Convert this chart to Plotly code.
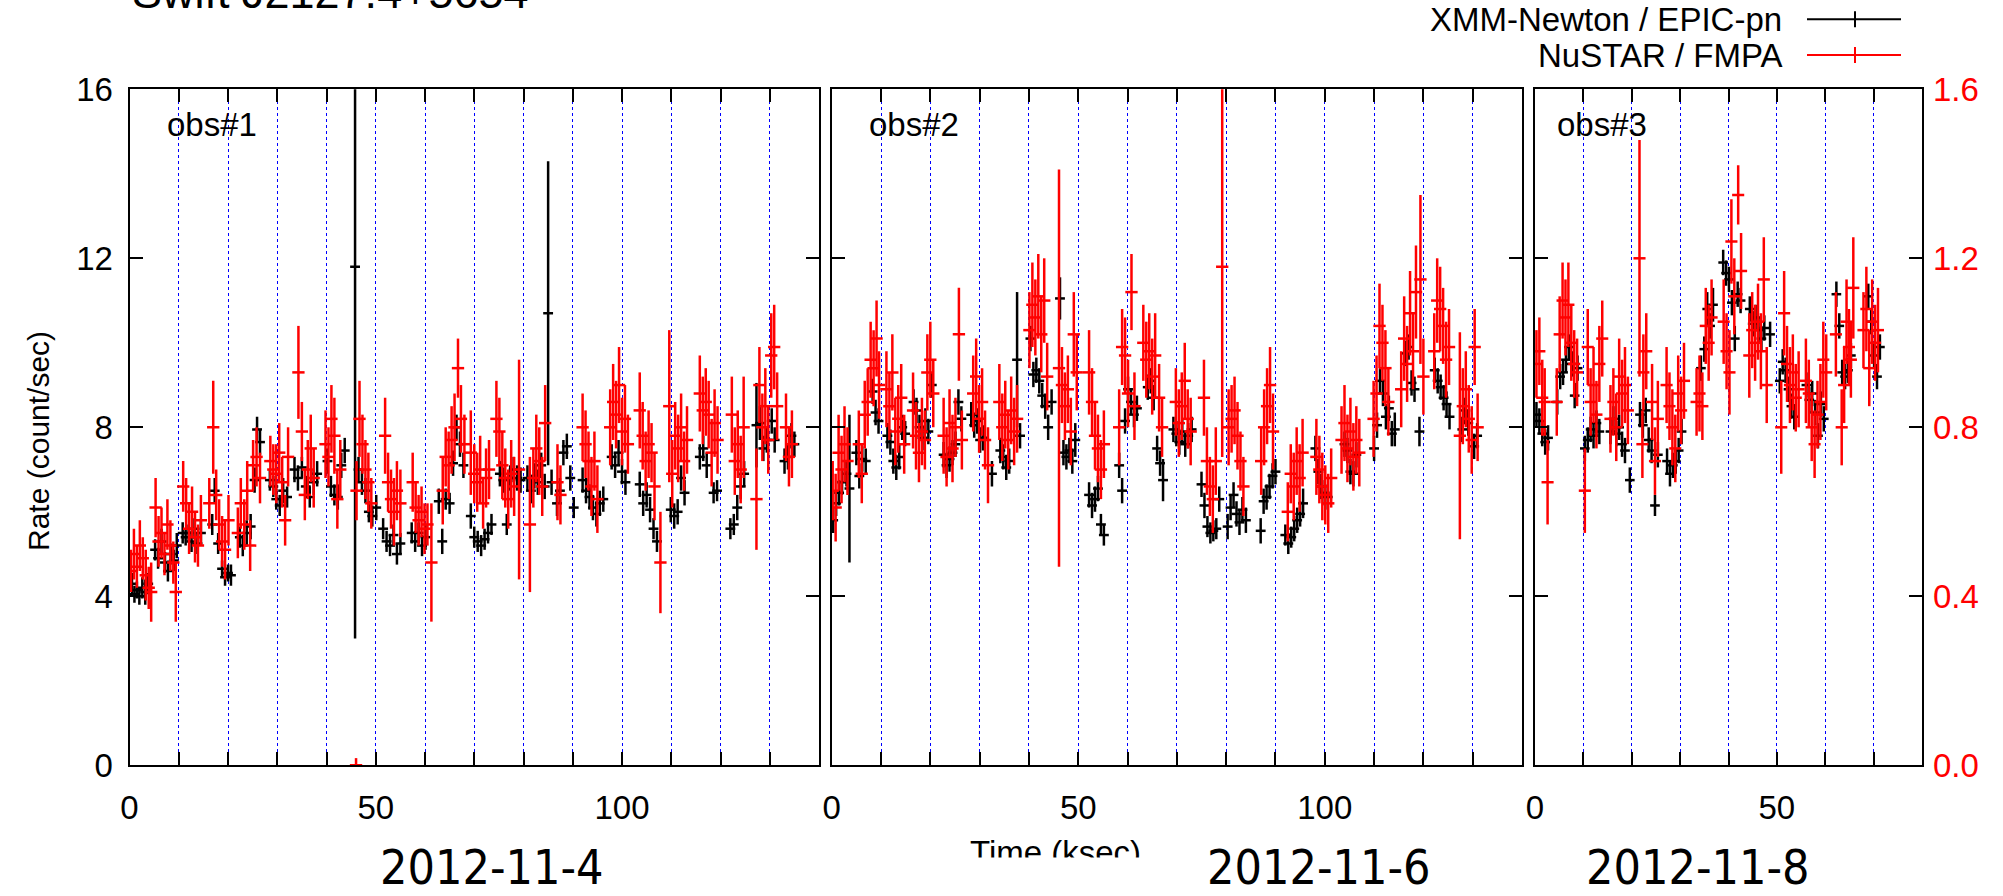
import plotly.graph_objects as go

# ------------------------------------------------------------------ data
# Panel 1 : obs#1 (2012-11-4)  XMM-Newton / EPIC-pn  (count/s)
xmm1_t = [0.5, 1.0, 1.5, 2.0, 2.6, 3.2, 3.8,
          5.2, 5.8, 6.5, 7.2, 7.8, 8.4, 9.0, 9.6,
          10.8, 11.4, 12.0, 12.6, 13.2, 13.8, 14.5,
          16.8, 17.3, 18.0, 18.8, 19.4, 20.0, 20.6,
          22.4, 23.0, 23.8, 24.6, 25.4, 25.9, 26.5,
          28.5, 29.2, 29.8, 30.5, 31.2, 32.0,
          33.5, 34.2, 35.0, 35.8, 36.6, 37.4, 38.1,
          40.2, 40.9, 41.6, 42.3, 43.0, 43.7,
          45.8,
          46.5, 47.2, 47.9, 48.6, 49.3, 50.1,
          51.5, 52.2, 52.9, 53.6, 54.3, 55.0,
          57.3, 58.0, 58.7, 59.4, 60.1,
          62.8, 63.5, 64.2, 65.0, 65.7, 66.4, 67.1, 67.8,
          69.3, 70.0, 70.7, 71.4, 72.1, 72.8, 73.5,
          75.2, 75.9, 76.6, 77.3, 78.0, 78.7, 79.4,
          80.8, 81.5, 82.2, 82.9, 83.6, 84.3,
          85.0,
          85.7, 86.8, 87.4, 88.1, 88.8, 89.5, 90.2,
          92.0, 92.7, 93.4, 94.1, 94.8, 95.5, 96.2,
          97.9, 98.6, 99.3, 100.0, 100.7,
          103.6, 104.3, 105.0, 105.7, 106.4, 107.1,
          109.9, 110.6, 111.3, 112.0, 112.7,
          115.8, 116.5, 117.2, 118.6, 119.3,
          122.0, 122.7, 123.4, 124.1, 124.8,
          127.3, 128.0, 128.7, 129.4, 130.4, 131.0,
          133.0, 133.7, 134.4, 135.0]
xmm1_rate = [4.3, 4.05, 4.15, 4.0, 4.2, 4.1, 4.3,
             5.1, 4.9, 5.3, 4.8, 4.6, 5.0, 4.85, 5.2,
             5.5, 5.4, 5.5, 5.3, 5.6, 5.25, 5.5,
             5.7, 6.5, 5.25, 4.65, 4.45, 4.55, 4.5,
             5.4, 5.2, 5.5, 5.65, 6.75, 7.95, 7.65,
             6.75, 6.6, 6.3, 6.15, 6.5, 6.35,
             7.0, 6.8, 7.05, 6.6, 6.35, 6.7, 6.9,
             7.2, 6.6, 6.4, 6.35, 7.1, 7.45,
             11.8,
             7.0, 6.7, 6.5, 6.0, 5.9, 6.1,
             5.6, 5.3, 5.2, 5.45, 5.0, 5.25,
             5.5, 5.3, 5.5, 5.2, 5.4,
             6.25, 5.3, 6.3, 6.2, 7.15, 8.0, 7.6, 7.1,
             5.9, 5.4, 5.3, 5.2, 5.35, 5.5, 5.7,
             6.9, 6.75, 5.7, 6.8, 7.0, 6.8, 6.75,
             6.8, 6.5, 6.85, 6.7, 7.1, 6.6,
             10.7,
             6.7, 6.2, 6.5, 7.4, 7.55, 6.8, 6.1,
             6.75, 6.5, 6.35, 6.1, 5.95, 6.2, 6.3,
             7.3, 7.1, 7.4, 6.95, 6.7,
             6.65, 6.2, 6.4, 6.05, 5.6, 5.3,
             6.05, 5.9, 6.0, 6.8, 6.45,
             7.3, 7.5, 7.1, 6.45, 6.5,
             5.6, 5.7, 6.1, 6.6, 6.9,
             8.05, 8.1, 7.5, 7.7, 8.15, 7.7,
             7.2, 7.3, 7.8, 7.6]
xmm1_err = [0.25, 0.2, 0.2, 0.2, 0.25, 0.3, 0.25,
            0.25, 0.25, 0.3, 0.25, 0.25, 0.25, 0.25, 0.3,
            0.25, 0.2, 0.2, 0.25, 0.25, 0.25, 0.3,
            0.25, 0.3, 0.25, 0.2, 0.2, 0.2, 0.25,
            0.25, 0.25, 0.3, 0.3, 0.3, 0.3, 0.3,
            0.25, 0.25, 0.25, 0.25, 0.3, 0.25,
            0.3, 0.3, 0.25, 0.25, 0.25, 0.3, 0.3,
            0.3, 0.25, 0.25, 0.3, 0.3, 0.3,
            8.8,
            0.3, 0.3, 0.3, 0.25, 0.25, 0.3,
            0.25, 0.25, 0.25, 0.25, 0.25, 0.25,
            0.25, 0.25, 0.25, 0.25, 0.3,
            0.3, 0.3, 0.25, 0.25, 0.3, 0.3, 0.3, 0.3,
            0.3, 0.25, 0.25, 0.25, 0.25, 0.25, 0.25,
            0.3, 0.3, 0.25, 0.3, 0.3, 0.3, 0.3,
            0.3, 0.3, 0.3, 0.3, 0.3, 0.3,
            3.6,
            0.3, 0.3, 0.3, 0.3, 0.3, 0.3, 0.25,
            0.3, 0.3, 0.3, 0.3, 0.3, 0.3, 0.3,
            0.3, 0.3, 0.3, 0.3, 0.3,
            0.3, 0.3, 0.3, 0.3, 0.25, 0.25,
            0.3, 0.3, 0.3, 0.3, 0.3,
            0.3, 0.3, 0.3, 0.25, 0.25,
            0.25, 0.25, 0.3, 0.3, 0.3,
            1.0, 0.4, 0.3, 0.3, 0.3, 0.3,
            0.3, 0.3, 0.3, 0.3]

# Panel 1 : NuSTAR / FMPA (count/s, right axis)
nu1_t = [0.3, 0.9, 1.5, 2.1, 2.7, 3.3, 3.9, 4.4,
         5.3, 5.9, 6.5, 7.1, 7.7, 8.3, 8.9, 9.4,
         10.9, 11.5, 12.1, 12.7, 13.3, 13.9, 14.5,
         16.2, 17.0, 17.6, 18.2, 18.8, 19.4, 20.1,
         22.0, 22.6, 23.3, 23.9, 24.5, 25.1, 25.8, 26.5,
         28.6, 29.2, 29.8, 30.4, 31.0, 31.6, 32.2,
         34.3, 35.0, 35.6, 36.2, 36.8, 37.4,
         39.8, 40.4, 41.0, 41.6, 42.2, 42.8,
         46.0,
         46.1, 46.7, 47.3, 47.9, 48.5, 49.1,
         51.9, 52.5, 53.1, 53.7, 54.3, 55.0,
         57.5, 58.1, 58.7, 59.3, 59.9, 60.5, 61.3,
         63.6, 64.2, 64.8, 65.4, 66.0, 66.7, 67.3, 68.0,
         69.3, 70.0, 70.6, 71.2, 71.8, 72.4, 73.0,
         74.5, 75.1, 75.7, 76.3, 76.9, 77.5, 78.1, 79.1,
         81.3, 82.0, 82.6, 83.2, 83.8, 84.4,
         86.9, 87.5,
         92.0, 92.6, 93.2, 93.8, 94.4, 95.0,
         97.6, 98.2, 98.8, 99.4, 100.0, 100.6, 101.2,
         103.6, 104.2, 104.8, 105.4, 106.0, 106.6, 107.8,
         109.6, 110.2, 110.8, 111.4, 112.0, 112.6, 113.2,
         115.8, 116.4, 117.0, 117.6, 118.2, 118.8, 119.4,
         122.3, 122.9, 123.5, 124.1, 124.7,
         127.3, 127.9, 128.5, 129.1, 129.7, 130.3, 130.9, 131.5,
         133.3, 133.9, 134.5]
nu1_rate = [0.46, 0.50, 0.47, 0.52, 0.49, 0.45, 0.42, 0.41,
            0.61, 0.53, 0.55, 0.50, 0.57, 0.52, 0.48, 0.41,
            0.66, 0.62, 0.56, 0.60, 0.54, 0.52, 0.58,
            0.62, 0.80, 0.64, 0.57, 0.53, 0.51, 0.58,
            0.55, 0.62, 0.57, 0.65, 0.52, 0.71, 0.73, 0.68,
            0.72, 0.70, 0.69, 0.74, 0.67, 0.58, 0.73,
            0.93, 0.79, 0.64, 0.70, 0.75, 0.68,
            0.76, 0.73, 0.82, 0.78, 0.63, 0.70,
            0.0,
            0.65, 0.82, 0.76, 0.70, 0.67, 0.62,
            0.78, 0.67, 0.63, 0.60, 0.65, 0.62,
            0.67, 0.61, 0.58, 0.60, 0.56, 0.57, 0.48,
            0.65, 0.73, 0.71, 0.77, 0.80, 0.94, 0.82, 0.76,
            0.74, 0.69, 0.67, 0.70, 0.62, 0.68, 0.70,
            0.82, 0.79, 0.71, 0.68, 0.63, 0.69, 0.66, 0.70,
            0.57, 0.68, 0.75, 0.72, 0.66, 0.81,
            0.67, 0.64,
            0.80, 0.76, 0.72, 0.66, 0.72, 0.63,
            0.80, 0.86, 0.83, 0.90, 0.79, 0.82, 0.76,
            0.84, 0.78, 0.72, 0.76, 0.74, 0.66, 0.48,
            0.85, 0.69, 0.78, 0.75, 0.80, 0.72, 0.77,
            0.88, 0.84, 0.86, 0.83, 0.74, 0.81, 0.77,
            0.83, 0.72, 0.76, 0.70, 0.80,
            0.63, 0.90, 0.80, 0.85, 0.77, 0.97, 0.99, 0.85,
            0.80, 0.73, 0.76]
nu1_err = [0.05, 0.06, 0.05, 0.06, 0.05, 0.06, 0.05, 0.07,
           0.07, 0.06, 0.06, 0.05, 0.06, 0.06, 0.05, 0.07,
           0.06, 0.06, 0.06, 0.06, 0.06, 0.05, 0.06,
           0.06, 0.11, 0.06, 0.06, 0.06, 0.07, 0.06,
           0.06, 0.06, 0.06, 0.07, 0.06, 0.06, 0.07, 0.06,
           0.06, 0.06, 0.07, 0.07, 0.06, 0.06, 0.07,
           0.11, 0.07, 0.06, 0.07, 0.08, 0.07,
           0.08, 0.07, 0.08, 0.09, 0.07, 0.07,
           0.017,
           0.07, 0.09, 0.07, 0.07, 0.07, 0.06,
           0.09, 0.07, 0.07, 0.08, 0.07, 0.08,
           0.07, 0.06, 0.06, 0.06, 0.06, 0.05, 0.14,
           0.08, 0.07, 0.08, 0.08, 0.08, 0.07, 0.08, 0.07,
           0.10, 0.07, 0.07, 0.08, 0.06, 0.07, 0.07,
           0.09, 0.08, 0.08, 0.07, 0.07, 0.08, 0.07, 0.26,
           0.16, 0.07, 0.08, 0.08, 0.07, 0.09,
           0.09, 0.07,
           0.08, 0.08, 0.07, 0.07, 0.07, 0.08,
           0.09, 0.09, 0.08, 0.09, 0.08, 0.08, 0.07,
           0.09, 0.08, 0.07, 0.08, 0.07, 0.08, 0.12,
           0.18, 0.08, 0.08, 0.08, 0.08, 0.07, 0.08,
           0.09, 0.08, 0.08, 0.08, 0.08, 0.08, 0.08,
           0.09, 0.08, 0.08, 0.08, 0.12,
           0.12, 0.09, 0.08, 0.09, 0.08, 0.10, 0.10, 0.08,
           0.08, 0.07, 0.08]

# Panel 2 : obs#2 (2012-11-6)  XMM-Newton / EPIC-pn
xmm2_t = [0.3, 0.9, 1.5, 2.1, 3.0, 3.6,
          5.0, 5.6, 6.2, 6.9,
          8.3, 8.9, 9.5,
          11.3, 11.9, 12.5, 13.1, 13.7, 14.3, 14.9,
          16.6, 17.2, 17.8, 18.4, 19.0, 19.6, 20.3,
          22.7, 23.3, 23.9, 24.5, 25.1, 25.7, 26.3,
          28.3, 28.9, 29.5, 30.1, 30.7, 32.5,
          34.2, 34.8, 35.4, 36.0, 37.6, 38.2,
          40.3, 40.9, 41.5, 42.1, 42.7, 43.3, 43.9, 44.6,
          46.3, 47.0, 47.6, 48.2, 48.8, 49.4,
          52.2, 52.8, 53.4, 54.0, 54.6, 55.2,
          58.3, 58.9, 59.5, 60.1, 60.7, 61.3, 61.9,
          64.1, 64.7, 65.3, 66.0, 66.6, 67.2,
          69.3, 69.9, 70.5, 71.1, 71.7, 72.3, 73.0,
          75.0, 75.6, 76.2, 76.8, 77.4, 78.0, 78.6,
          80.3, 80.9, 81.5, 82.1, 82.7, 83.3, 84.0,
          87.0, 87.6, 88.2, 88.8, 89.4, 90.0,
          92.0, 92.6, 93.2, 93.8, 94.4, 95.0, 95.6,
          98.1, 98.7, 99.3, 100.0, 100.6,
          104.0, 104.6, 105.2, 105.8, 106.4,
          110.0, 110.6, 111.2, 111.8, 112.4, 113.0, 113.6, 114.2,
          116.3, 117.0, 117.6, 118.2, 119.2,
          122.3, 122.9, 123.5, 124.1, 124.7, 125.3,
          127.9, 128.5, 129.1, 130.3, 130.9]
xmm2_rate = [5.8, 6.2, 6.45, 6.7, 6.9, 6.55,
             7.4, 6.85, 7.25, 7.2,
             8.85, 8.35, 8.15,
             7.8, 7.65, 7.2, 7.05, 7.3, 8.0, 7.85,
             8.6, 8.4, 8.0, 7.75, 8.15, 7.9, 9.0,
             7.35, 7.1, 7.25, 7.4, 7.6, 8.6, 8.2,
             8.3, 8.05, 8.15, 7.7, 7.75, 6.9,
             7.45, 7.3, 7.05, 7.2, 9.6, 7.8,
             10.1, 9.25, 9.35, 9.1, 8.75, 8.5, 8.0, 8.6,
             11.05, 7.4, 7.3, 7.45, 7.2, 7.7,
             6.4, 6.15, 6.3, 6.55, 5.7, 5.45,
             7.1, 6.5, 8.15, 8.9, 8.6, 8.3, 8.45,
             8.95, 9.1, 8.7, 7.5, 7.15, 6.75,
             7.95, 7.85, 7.65, 7.9, 7.6, 7.8, 7.95,
             6.65, 6.15, 5.65, 5.5, 5.55, 5.6, 6.3,
             5.65, 6.1, 6.4, 5.95, 5.75, 6.05, 5.8,
             5.55, 6.25, 6.35, 6.6, 6.85, 6.95,
             5.45, 5.25, 5.4, 5.6, 5.8, 5.95, 6.2,
             7.5, 6.95, 6.6, 6.45, 6.35,
             7.6, 7.45, 6.95, 6.9, 7.35,
             7.5, 8.05, 9.1, 8.8, 8.25, 8.45, 7.85, 7.95,
             9.75, 9.9, 9.05, 8.9, 7.9,
             9.35, 9.1, 8.95, 8.7, 8.55, 8.25,
             7.95, 8.4, 8.1, 7.55, 7.8]
xmm2_err = [0.3, 0.3, 0.3, 0.3, 0.3, 1.75,
            0.3, 0.3, 0.3, 0.3,
            0.3, 0.3, 0.3,
            0.3, 0.3, 0.3, 0.3, 0.3, 0.3, 0.3,
            0.3, 0.3, 0.3, 0.3, 0.3, 0.3, 0.3,
            0.3, 0.3, 0.3, 0.3, 0.3, 0.3, 0.3,
            0.3, 0.3, 0.3, 0.3, 0.3, 0.3,
            0.3, 0.3, 0.3, 0.3, 1.6, 0.3,
            0.3, 0.3, 0.3, 0.3, 0.3, 0.3, 0.3, 0.3,
            0.5, 0.3, 0.3, 0.3, 0.3, 0.4,
            0.3, 0.3, 0.3, 0.3, 0.25, 0.25,
            0.3, 0.3, 0.3, 0.3, 0.3, 0.3, 0.3,
            0.3, 0.3, 0.3, 0.3, 0.3, 0.5,
            0.3, 0.3, 0.3, 0.3, 0.3, 0.3, 0.3,
            0.3, 0.3, 0.25, 0.25, 0.25, 0.25, 0.3,
            0.3, 0.3, 0.3, 0.3, 0.3, 0.3, 0.3,
            0.3, 0.3, 0.3, 0.3, 0.3, 0.3,
            0.25, 0.25, 0.25, 0.3, 0.3, 0.3, 0.35,
            0.3, 0.3, 0.3, 0.3, 0.3,
            0.3, 0.3, 0.3, 0.3, 0.3,
            0.3, 0.3, 0.3, 0.3, 0.3, 0.3, 0.3, 0.4,
            0.3, 0.3, 0.3, 0.3, 0.35,
            0.3, 0.3, 0.3, 0.3, 0.3, 0.3,
            0.3, 0.3, 0.3, 0.3, 0.3]

# Panel 2 : NuSTAR / FMPA
nu2_t = [0.2, 0.8, 1.4, 2.0, 2.6, 3.2,
         5.5, 6.1, 6.7, 7.3, 7.9, 8.5, 9.1, 9.6,
         11.1, 11.7, 12.3, 12.9, 13.5, 14.1, 14.7,
         16.5, 17.1, 17.7, 18.3, 18.9, 19.4, 20.0, 20.6,
         22.7, 23.3, 23.9, 24.5, 25.1, 25.8, 26.4,
         28.7, 29.3, 29.9, 30.5, 31.1, 31.7,
         34.0, 34.6, 35.2, 35.8, 36.4, 37.0, 37.6,
         40.1, 40.7, 41.3, 41.9, 42.5, 43.1, 43.7,
         46.1, 46.7, 47.3, 47.9, 48.5, 49.1, 49.7,
         52.2, 52.8, 53.4, 54.0, 54.6, 55.2,
         58.3, 58.9, 59.5, 60.1, 60.8, 61.4,
         63.2, 63.8, 64.4, 65.0, 65.6, 66.4, 67.0,
         69.8, 70.4, 71.0, 71.6, 72.2, 72.8,
         75.5, 76.1, 76.7, 77.3, 77.9, 79.2,
         80.5, 81.1, 81.7, 82.3, 82.9, 83.5,
         87.1, 87.7, 88.3, 88.9, 89.5,
         92.5, 93.1, 93.7, 94.3, 94.9, 95.5,
         98.3, 98.9, 99.5, 100.1, 100.7, 101.3,
         103.4, 104.0, 104.6, 105.2, 105.8, 106.4, 107.0,
         109.9, 110.5, 111.1, 111.7, 112.3, 112.9,
         115.5, 116.1, 116.7, 117.3, 117.9, 118.5, 119.4, 120.0,
         122.2, 122.8, 123.4, 124.0, 124.6, 125.2,
         127.4, 128.0, 128.6, 129.2, 129.8, 130.4, 131.0]
nu2_rate = [0.65, 0.61, 0.74, 0.70, 0.76, 0.72,
            0.76, 0.69, 0.83, 0.86, 0.96, 0.94, 1.01, 0.90,
            0.89, 0.85, 0.93, 0.79, 0.82, 0.87, 0.76,
            0.84, 0.78, 0.74, 0.79, 0.77, 0.93, 0.96, 0.88,
            0.78, 0.73, 0.81, 0.75, 0.80, 1.02, 0.77,
            0.88, 0.92, 0.82, 0.86, 0.77, 0.71,
            0.86, 0.80, 0.83, 0.77, 0.84, 0.79, 0.82,
            1.03, 1.09, 1.06, 1.11, 1.02, 1.10, 0.92,
            0.94, 0.90, 0.85, 0.89, 0.79, 1.02, 0.93,
            0.93, 0.86, 0.78, 0.75, 0.70, 0.76,
            0.80, 0.99, 0.97, 0.88, 1.12, 0.85,
            1.00, 0.96, 0.98, 0.92, 0.97, 0.87, 0.80,
            0.86, 0.81, 0.85, 0.91, 0.82, 0.79,
            0.87, 0.72, 0.66, 0.63, 0.72, 1.18,
            0.80, 0.82, 0.84, 0.78, 0.72, 0.66,
            0.72, 0.80, 0.85, 0.90, 0.79,
            0.60, 0.69, 0.66, 0.72, 0.68, 0.74,
            0.73, 0.70, 0.66, 0.64, 0.62, 0.68,
            0.77, 0.81, 0.75, 0.79, 0.73, 0.77, 0.74,
            0.82, 0.88, 1.04, 1.00, 0.94, 0.86,
            0.89, 1.01, 0.95, 1.07, 0.98, 1.12, 1.15, 0.92,
            0.98, 1.10, 1.08, 1.04, 0.96, 0.99,
            0.78, 0.85, 0.89, 0.82, 0.77, 0.99, 0.80]
nu2_err = [0.07, 0.08, 0.09, 0.08, 0.09, 0.08,
           0.08, 0.07, 0.08, 0.08, 0.09, 0.09, 0.09, 0.08,
           0.09, 0.08, 0.09, 0.08, 0.08, 0.08, 0.07,
           0.09, 0.08, 0.07, 0.08, 0.07, 0.09, 0.09, 0.08,
           0.09, 0.07, 0.08, 0.08, 0.07, 0.11, 0.07,
           0.09, 0.09, 0.08, 0.08, 0.07, 0.09,
           0.09, 0.08, 0.08, 0.07, 0.08, 0.08, 0.08,
           0.09, 0.10, 0.09, 0.10, 0.09, 0.10, 0.08,
           0.47, 0.09, 0.08, 0.08, 0.08, 0.10, 0.09,
           0.10, 0.08, 0.08, 0.08, 0.07, 0.08,
           0.09, 0.09, 0.09, 0.08, 0.09, 0.08,
           0.09, 0.09, 0.09, 0.09, 0.10, 0.08, 0.07,
           0.08, 0.08, 0.08, 0.09, 0.07, 0.08,
           0.09, 0.08, 0.07, 0.08, 0.08, 0.45,
           0.09, 0.08, 0.08, 0.08, 0.07, 0.07,
           0.08, 0.09, 0.09, 0.09, 0.09,
           0.07, 0.07, 0.08, 0.08, 0.08, 0.08,
           0.09, 0.08, 0.08, 0.07, 0.07, 0.07,
           0.08, 0.09, 0.08, 0.08, 0.08, 0.08, 0.08,
           0.09, 0.09, 0.10, 0.09, 0.09, 0.08,
           0.09, 0.10, 0.09, 0.10, 0.09, 0.11, 0.20, 0.09,
           0.09, 0.10, 0.10, 0.09, 0.09, 0.09,
           0.245, 0.09, 0.09, 0.08, 0.08, 0.09, 0.08]

# Panel 3 : obs#3 (2012-11-8)  XMM-Newton / EPIC-pn
xmm3_t = [0.3, 0.9, 1.5, 2.1, 2.7,
          4.6, 5.2, 5.8, 6.4, 7.0, 7.6, 8.2, 8.8,
          10.3, 10.9, 11.5, 12.1, 12.7, 13.3,
          15.6, 16.2, 16.8, 17.4, 18.0, 18.6, 19.6,
          21.7, 22.3, 22.9, 23.5, 24.1, 24.8, 25.4,
          27.3, 27.9, 28.5, 29.1, 29.7, 30.3,
          34.3, 35.0, 35.6, 36.2, 36.8,
          38.9, 39.5, 40.1, 40.7, 41.3, 41.9, 42.5,
          44.4, 45.0, 45.6, 46.2, 46.8, 47.4, 48.6,
          50.6, 51.2, 51.8, 52.4, 53.0, 53.6,
          56.1, 56.7, 57.3, 57.9, 58.5, 59.1, 59.7,
          62.3, 62.9, 63.5, 64.1, 64.7, 65.3,
          68.9, 69.5, 70.1, 70.7, 71.3]
xmm3_rate = [8.3, 8.15, 7.85, 7.65, 7.75,
             8.6, 9.2, 9.3, 9.6, 9.9, 9.5, 8.75, 9.4,
             7.5, 7.7, 7.95, 7.8, 8.1, 7.9,
             7.9, 8.2, 7.85, 8.0, 7.6, 7.45, 6.75,
             8.3, 8.05, 8.4, 7.7, 7.45, 6.15, 7.35,
             7.2, 6.9, 7.1, 7.2, 7.45, 7.9,
             9.4, 9.85, 10.8, 10.4, 10.9,
             11.9, 11.65, 11.5, 10.95, 10.1, 11.15, 11.0,
             10.8, 10.45, 10.6, 10.3, 10.1, 10.35, 10.2,
             9.1, 9.55, 9.35, 8.9, 8.5, 8.25,
             9.0, 8.65, 8.8, 8.35, 7.8, 8.55, 8.2,
             11.15, 10.4, 9.3, 9.2, 9.35, 9.7,
             11.1, 10.5, 9.7, 9.2, 9.9]
xmm3_err = [0.3, 0.3, 0.3, 0.3, 0.3,
            0.3, 0.3, 0.3, 0.3, 0.3, 0.3, 0.3, 0.3,
            0.3, 0.3, 0.3, 0.3, 0.3, 0.3,
            0.3, 0.3, 0.3, 0.3, 0.3, 0.3, 0.3,
            0.3, 0.3, 0.3, 0.3, 0.3, 0.25, 0.3,
            0.3, 0.3, 0.3, 0.3, 0.3, 0.3,
            0.3, 0.3, 0.4, 0.3, 0.4,
            0.3, 0.3, 0.3, 0.3, 0.3, 0.3, 0.3,
            0.3, 0.3, 0.3, 0.3, 0.3, 0.3, 0.3,
            0.3, 0.3, 0.3, 0.3, 0.3, 0.3,
            0.3, 0.3, 0.3, 0.3, 0.3, 0.3, 0.3,
            0.3, 0.3, 0.3, 0.3, 0.3, 0.3,
            0.3, 0.3, 0.3, 0.3, 0.3]

# Panel 3 : NuSTAR / FMPA
nu3_t = [0.3, 0.9, 1.5, 2.0, 2.6,
         4.5, 5.1, 5.7, 6.3, 6.9, 7.5, 8.1, 8.7,
         10.3, 10.9, 11.5, 12.1, 12.7, 13.3, 13.9,
         15.6, 16.2, 16.8, 17.4, 18.0, 18.6, 19.2,
         21.6, 22.2, 22.4, 23.0, 24.2, 24.8, 25.4,
         27.2, 27.8, 28.4, 29.0, 29.6, 30.2, 30.8,
         33.4, 34.0, 34.6, 35.3, 35.9, 36.5,
         39.0, 39.6, 40.2, 40.6, 41.2, 42.0, 42.6,
         44.3, 44.9, 45.5, 46.1, 46.7, 47.3, 47.9,
         50.9, 51.5, 52.1, 52.7, 53.3, 53.9, 54.5,
         56.0, 56.6, 57.2, 57.8, 58.4, 59.0, 59.6, 60.2,
         62.2, 63.4, 63.9, 64.4, 64.9, 65.3, 65.8,
         67.9, 68.5, 69.1, 69.7, 70.3, 70.9]
nu3_rate = [0.95, 0.98, 0.87, 0.86, 0.67,
            0.86, 1.02, 1.10, 1.06, 1.09, 1.00, 0.95, 0.93,
            0.65, 0.99, 0.86, 0.90, 0.83, 0.95, 1.01,
            0.82, 0.86, 0.80, 0.92, 0.88, 0.90, 0.84,
            1.20, 0.76, 0.93, 0.98, 0.86, 0.72, 0.82,
            0.90, 0.85, 0.80, 0.75, 0.88, 0.84, 0.91,
            0.86, 0.88, 0.85, 1.04, 1.00, 1.06,
            1.05, 0.98, 0.93, 1.24, 1.11, 1.35, 1.17,
            0.97, 1.03, 1.00, 1.05, 0.98, 1.15, 0.90,
            0.80, 1.07, 0.95, 0.90, 0.93, 0.87, 0.89,
            0.91, 0.88, 0.80, 0.76, 0.83, 0.86, 0.96, 0.93,
            1.02, 0.80, 0.90, 1.05, 0.99, 0.96, 1.13,
            1.03, 1.08, 0.94, 1.05, 1.00, 1.03]
nu3_err = [0.08, 0.08, 0.09, 0.08, 0.10,
           0.08, 0.09, 0.09, 0.09, 0.10, 0.09, 0.08, 0.08,
           0.10, 0.09, 0.08, 0.09, 0.08, 0.09, 0.09,
           0.08, 0.08, 0.08, 0.09, 0.08, 0.09, 0.08,
           0.28, 0.08, 0.09, 0.09, 0.09, 0.08, 0.09,
           0.09, 0.08, 0.09, 0.08, 0.09, 0.08, 0.09,
           0.08, 0.09, 0.08, 0.09, 0.09, 0.09,
           0.10, 0.09, 0.10, 0.10, 0.09, 0.07, 0.09,
           0.10, 0.09, 0.09, 0.09, 0.09, 0.10, 0.09,
           0.11, 0.10, 0.09, 0.09, 0.09, 0.08, 0.09,
           0.10, 0.08, 0.08, 0.08, 0.08, 0.09, 0.09, 0.09,
           0.10, 0.09, 0.09, 0.10, 0.09, 0.09, 0.12,
           0.09, 0.10, 0.09, 0.10, 0.09, 0.10]

obs_labels = ["obs#1", "obs#2", "obs#3"]
date_labels = ["2012-11-4", "2012-11-6", "2012-11-8"]
panel_span = [140, 140, 80]            # ksec shown per observation
left_ticks = [0, 4, 8, 12, 16]
right_ticks = [0.0, 0.4, 0.8, 1.2, 1.6]
series_names = ["XMM-Newton / EPIC-pn", "NuSTAR / FMPA"]

xmm = [(xmm1_t, xmm1_rate, xmm1_err), (xmm2_t, xmm2_rate, xmm2_err), (xmm3_t, xmm3_rate, xmm3_err)]
nus = [(nu1_t, nu1_rate, nu1_err), (nu2_t, nu2_rate, nu2_err), (nu3_t, nu3_rate, nu3_err)]
for a, b, c in xmm + nus:
    assert len(a) == len(b) == len(c), (len(a), len(b), len(c))

# ------------------------------------------------------------------ layout geometry (pixels)
W, H = 2003, 896
FONT = "Liberation Sans, Arial, Helvetica, sans-serif"
panel_px = [(129.5, 819.0), (831.7, 1522.0), (1535.0, 1922.0)]
y_bot_px, y_top_px = 765.3, 89.3


def px(x):
    return x / W


def py(y):
    return 1 - y / H


fig = go.Figure()
layout = dict(
    width=W, height=H,
    margin=dict(l=0, r=0, t=0, b=0, pad=0, autoexpand=False),
    paper_bgcolor="white", plot_bgcolor="rgba(0,0,0,0)",
    showlegend=False,
    font=dict(family=FONT, size=33, color="black"),
)

for i in range(3):
    n = i + 1
    xs = "" if n == 1 else str(n)
    span = panel_span[i]
    tv = list(range(0, span + 1, 10))
    layout["xaxis" + xs] = dict(
        domain=[px(panel_px[i][0]), px(panel_px[i][1])],
        range=[0, span], anchor="y" + xs, automargin=False,
        tickvals=tv, ticktext=[str(v) if v % 50 == 0 and v < span else "" for v in tv],
        ticks="inside", ticklen=13, tickwidth=2, tickcolor="black",
        showline=True, linewidth=2, linecolor="black", mirror="ticks",
        showgrid=True, gridcolor="#0000ff", gridwidth=1, griddash="3px,3px",
        zeroline=False, tickfont=dict(size=33), ticklabelstandoff=12,
    )
    layout["yaxis" + xs] = dict(
        domain=[py(y_bot_px), py(y_top_px)], range=[0, 16], anchor="x" + xs, automargin=False,
        tickvals=left_ticks, ticks="inside", ticklen=13, tickwidth=2, tickcolor="black",
        showline=True, linewidth=2, linecolor="black", mirror="ticks",
        showgrid=False, zeroline=False, showticklabels=(n == 1),
        tickfont=dict(size=33), ticklabelstandoff=8,
    )
    ov = str(n + 3)
    layout["yaxis" + ov] = dict(
        overlaying="y" + xs, anchor="x" + xs, range=[0, 1.6], side="right", automargin=False,
        tickvals=right_ticks, ticktext=["%.1f" % v for v in right_ticks],
        ticks="", showline=False, showgrid=False, zeroline=False,
        showticklabels=(n == 3), tickfont=dict(size=33, color="red"),
        ticklabelstandoff=10,
    )

    t, r, e = xmm[i]
    fig.add_trace(go.Scatter(
        x=t, y=r, mode="markers", name=series_names[0],
        marker=dict(size=1, color="black", opacity=0),
        error_y=dict(type="data", array=e, color="black", thickness=2.5, width=0),
        error_x=dict(type="constant", value=1.0, color="black", thickness=2.5, width=0),
        xaxis="x" + xs, yaxis="y" + xs, hoverinfo="skip",
    ))
    t, r, e = nus[i]
    fig.add_trace(go.Scatter(
        x=t, y=r, mode="markers", name=series_names[1],
        marker=dict(size=1, color="red", opacity=0),
        error_y=dict(type="data", array=e, color="red", thickness=2.5, width=0),
        error_x=dict(type="constant", value=1.25, color="red", thickness=2.5, width=0),
        xaxis="x" + xs, yaxis="y" + ov, hoverinfo="skip",
    ))

annotations = []
# observation labels
obs_px = [164.6, 867.0, 1555.0]
for i in range(3):
    annotations.append(dict(text=obs_labels[i], x=px(obs_px[i]), y=py(124), xref="paper", yref="paper",
                            xanchor="left", yanchor="middle", showarrow=False, font=dict(size=33)))
# title, cut off by the top edge as in the original
annotations.append(dict(text="Swift J2127.4+5654", x=px(129.5), y=py(-7.6), xref="paper", yref="paper",
                        xanchor="left", yanchor="middle", showarrow=False, font=dict(size=45)))
# axis titles
annotations.append(dict(text="Rate (count/sec)", x=px(38), y=py(441), xref="paper", yref="paper",
                        textangle=-90, xanchor="center", yanchor="middle", showarrow=False,
                        font=dict(size=30)))
annotations.append(dict(text="Time (ksec)", x=px(1055), y=py(852), xref="paper", yref="paper",
                        xanchor="center", yanchor="middle", showarrow=False, font=dict(size=33)))
# white strip of the pasted date labels (partially hides the x title)
annotations.append(dict(text=" ", x=px(1000), y=py(857), xref="paper", yref="paper",
                        xanchor="center", yanchor="top", showarrow=False, width=1700, height=38,
                        bgcolor="white", borderpad=0, font=dict(size=10)))
date_px = [491, 1318.5, 1697]
for i in range(3):
    annotations.append(dict(text=date_labels[i], x=px(date_px[i]), y=py(867.0), xref="paper", yref="paper",
                            xanchor="center", yanchor="middle", showarrow=False,
                            font=dict(size=48, weight=300,
                                      family="DejaVu Sans Condensed, Liberation Sans Narrow, sans-serif")))
# key (text left of sample, as in gnuplot)
key_y = [19.3, 55.0]
key_col = ["black", "red"]
shapes = []
for k in range(2):
    annotations.append(dict(text=series_names[k], x=px(1784), y=py(key_y[k]), xref="paper", yref="paper",
                            xanchor="right", yanchor="middle", showarrow=False, font=dict(size=33)))
    shapes.append(dict(type="line", xref="paper", yref="paper", x0=px(1807), x1=px(1901),
                       y0=py(key_y[k]), y1=py(key_y[k]), line=dict(color=key_col[k], width=2)))
    shapes.append(dict(type="line", xref="paper", yref="paper", x0=px(1855), x1=px(1855),
                       y0=py(key_y[k] - 8), y1=py(key_y[k] + 8), line=dict(color=key_col[k], width=2)))

layout["annotations"] = annotations
layout["shapes"] = shapes
fig.update_layout(**layout)
fig.write_html("out.html")
